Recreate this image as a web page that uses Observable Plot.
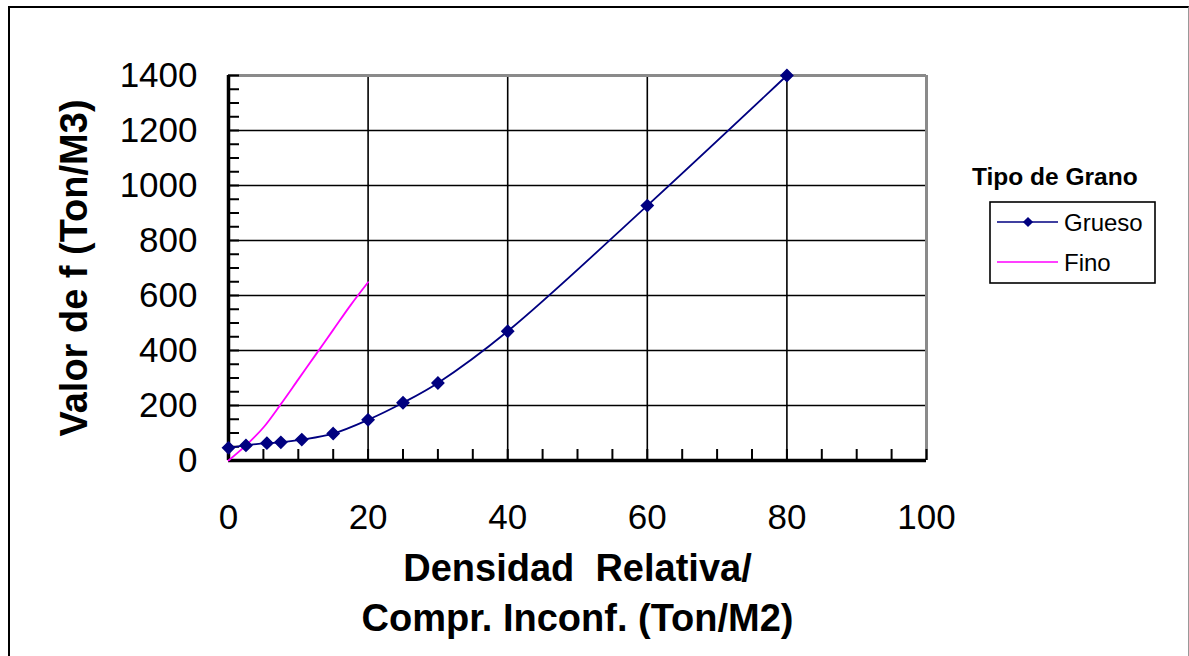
<!DOCTYPE html>
<html>
<head>
<meta charset="utf-8">
<script src="https://cdn.jsdelivr.net/npm/d3@7"></script>
<script src="https://cdn.jsdelivr.net/npm/@observablehq/plot@0.6"></script>
<style>
  html, body { margin: 0; padding: 0; background: #fff; }
  #wrap { position: relative; width: 1189px; height: 656px; overflow: hidden; font-family: "Liberation Sans", Arial, sans-serif; }
  #border { position: absolute; left: 8px; top: 6px; width: 1178px; height: 700px;
            border-left: 2px solid #000; border-top: 2.5px solid #000; border-right: 1px solid #999; }
  #chart { position: absolute; left: 0; top: 0; }
  #legend { position: absolute; left: 0; top: 0; pointer-events: none; }
</style>
</head>
<body>
<div id="wrap">
  <div id="border"></div>
  <div id="chart"></div>
  <svg id="legend" width="1189" height="656"></svg>
</div>
<script>
// ---- data ----
const gruesoX = [0, 2.5, 5.5, 7.5, 10.5, 15, 20, 25, 30, 40, 60, 80];
const gruesoY = [46, 55, 63, 66, 76, 98, 148, 210, 282, 470, 927, 1400];
const finoX = [0, 2.5, 5, 7.5, 10, 12.5, 15, 17.5, 20];
const finoY = [0, 55, 120, 205, 295, 385, 475, 565, 648];
const xTicks = [0, 20, 40, 60, 80, 100];
const yTicks = [0, 200, 400, 600, 800, 1000, 1200, 1400];
const xMinor = d3.range(0, 101, 5);
const yMinor = d3.range(0, 1401, 50);
const seriesNames = ["Grueso", "Fino"];
const seriesColors = ["#000080", "#ff00ff"];
const xTitle = "Densidad\u00a0\u00a0Relativa/\nCompr. Inconf. (Ton/M2)";
const yTitle = "Valor de f (Ton/M3)";
const legendTitle = "Tipo de Grano";

const grueso = gruesoX.map((x, i) => ({x, y: gruesoY[i]}));
const fino = finoX.map((x, i) => ({x, y: finoY[i]}));

const W = 1189, H = 656, mL = 228, mR = 263, mT = 75, mB = 196;
const frameW = W - mL - mR, frameH = H - mT - mB;

const chart = Plot.plot({
  width: W, height: H,
  marginLeft: mL, marginRight: mR, marginTop: mT, marginBottom: mB,
  style: {fontFamily: "'Liberation Sans', Arial, sans-serif", background: "transparent", color: "#000"},
  x: {domain: [0, 100]},
  y: {domain: [0, 1400]},
  marks: [
    Plot.gridX([20, 40, 60, 80], {stroke: "#000", strokeOpacity: 1, strokeWidth: 1.6}),
    Plot.gridY([200, 400, 600, 800, 1000, 1200], {stroke: "#000", strokeOpacity: 1, strokeWidth: 1.6}),
    Plot.ruleX([100], {stroke: "#8a8a8a", strokeWidth: 3}),
    Plot.ruleY([1400], {stroke: "#8a8a8a", strokeWidth: 3}),
    Plot.tickY(yMinor, {y: d => d, stroke: "#000", strokeWidth: 2, insetRight: frameW - 11}),
    Plot.tickX(xMinor, {x: d => d, stroke: "#000", strokeWidth: 2, insetTop: frameH - 11}),
    Plot.ruleX([0], {stroke: "#000", strokeWidth: 3.5}),
    Plot.ruleY([0], {stroke: "#000", strokeWidth: 3.5}),
    Plot.axisX(xTicks, {tickSize: 0, tickPadding: 44, fontSize: 35, label: null, fill: "#000", tickFormat: d => String(d)}),
    Plot.axisY(yTicks, {tickSize: 0, tickPadding: 31, fontSize: 35, label: null, fill: "#000", tickFormat: d => String(d)}),
    Plot.line(fino, {x: "x", y: "y", stroke: seriesColors[1], strokeWidth: 1.8, curve: "catmull-rom"}),
    Plot.line(grueso, {x: "x", y: "y", stroke: seriesColors[0], strokeWidth: 1.8, curve: "catmull-rom"}),
    Plot.dot(grueso, {x: "x", y: "y", symbol: "diamond2", fill: seriesColors[0], stroke: seriesColors[0], r: 5.3}),
    Plot.text([xTitle], {frameAnchor: "bottom", text: d => d, dy: 85, lineAnchor: "top", lineHeight: 1.32,
      textAnchor: "middle", fontSize: 38, fontWeight: "bold", fill: "#000"}),
    Plot.text([yTitle], {frameAnchor: "left", text: d => d, dx: -154, rotate: -90, lineAnchor: "middle",
      textAnchor: "middle", fontSize: 38, fontWeight: "bold", fill: "#000"})
  ]
});
document.getElementById("chart").appendChild(chart);

// ---- legend ----
const lg = d3.select("#legend").style("font-family", "'Liberation Sans', Arial, sans-serif");
lg.append("text").attr("x", 972).attr("y", 185).attr("font-size", 24.5).attr("font-weight", "bold").text(legendTitle);
lg.append("rect").attr("x", 990).attr("y", 202).attr("width", 165).attr("height", 81)
  .attr("fill", "none").attr("stroke", "#000").attr("stroke-width", 1.6);
seriesNames.forEach((name, i) => {
  const cy = 222 + i * 40;
  lg.append("line").attr("x1", 997).attr("x2", 1058).attr("y1", cy).attr("y2", cy)
    .attr("stroke", seriesColors[i]).attr("stroke-width", 1.6);
  if (i === 0) {
    lg.append("path").attr("d", d3.symbol(d3.symbolDiamond2, 4.6 * 4.6 * Math.PI)())
      .attr("transform", `translate(1028,${cy})`).attr("fill", seriesColors[0]);
  }
  lg.append("text").attr("x", 1064).attr("y", cy + 8.5).attr("font-size", 24).text(name);
});
</script>
</body>
</html>
